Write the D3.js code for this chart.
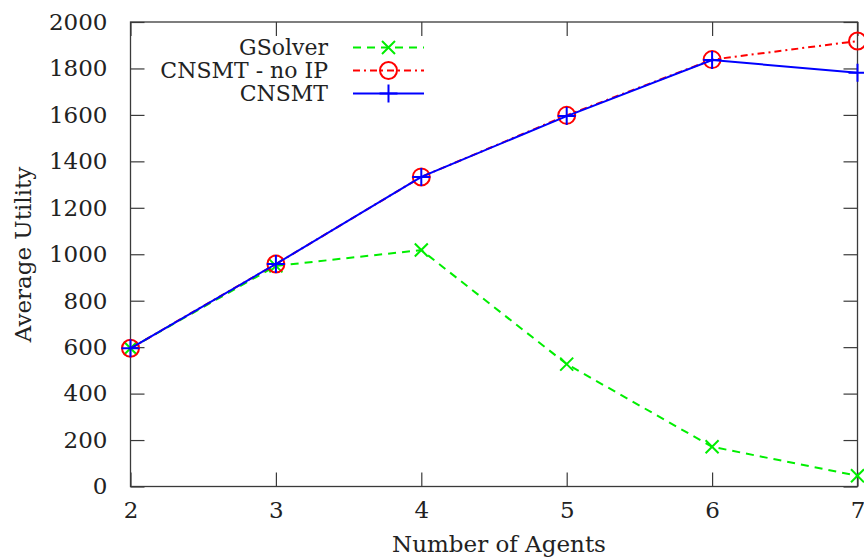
<!DOCTYPE html>
<html>
<head>
<meta charset="utf-8">
<script src="https://cdn.jsdelivr.net/npm/d3@7"></script>
<style>
  html, body { margin: 0; padding: 0; background: #fff; }
  svg { display: block; }
  text { font-family: "DejaVu Serif", serif; fill: #222; }
</style>
</head>
<body>
<svg id="chart" width="864" height="558"></svg>
<script>
// Average utility per number of agents
const agents = [2, 3, 4, 5, 6, 7];
const gsolver = [595, 950, 1018, 527, 171, 46];
const cnsmtNoIP = [595, 958, 1333, 1598, 1838, 1918];
const cnsmt = [595, 958, 1333, 1595, 1836, 1782];
const yTicks = [0, 200, 400, 600, 800, 1000, 1200, 1400, 1600, 1800, 2000];
const xTicks = [2, 3, 4, 5, 6, 7];

const seriesNames = ["GSolver", "CNSMT - no IP", "CNSMT"];
const seriesColors = ["#00ee00", "#ff0000", "#0000ff"];
const seriesDash = ["8,6", "7,4,2,4", null];
const seriesMarker = ["cross", "circle", "plus"];
const seriesValues = [gsolver, cnsmtNoIP, cnsmt];

const svg = d3.select("#chart");
const plotLeft = 130.5, plotRight = 857.5, plotTop = 22, plotBottom = 486.5;

const x = d3.scaleLinear().domain([2, 7]).range([plotLeft, plotRight]);
const y = d3.scaleLinear().domain([0, 2000]).range([plotBottom, plotTop]);

const axisColor = "#3a3a3a";
const tickLen = 14;

// Frame
svg.append("rect")
  .attr("x", plotLeft).attr("y", plotTop)
  .attr("width", plotRight - plotLeft).attr("height", plotBottom - plotTop)
  .attr("fill", "none").attr("stroke", axisColor).attr("stroke-width", 1.3);

// Axes with inward ticks, mirrored on the opposite sides
const fontSize = 23;
const fmt = d3.format("d");
const yAxisL = d3.axisLeft(y).tickValues(yTicks).tickSize(-tickLen).tickPadding(23).tickFormat(fmt);
const yAxisR = d3.axisRight(y).tickValues(yTicks).tickSize(-tickLen).tickFormat("");
const xAxisB = d3.axisBottom(x).tickValues(xTicks).tickSize(-tickLen).tickPadding(8).tickFormat(fmt);
const xAxisT = d3.axisTop(x).tickValues(xTicks).tickSize(-tickLen).tickFormat("");

function styleAxis(g) {
  g.select(".domain").remove();
  g.selectAll(".tick line").attr("stroke", axisColor).attr("stroke-width", 1.2);
  g.selectAll(".tick text")
    .attr("font-family", "DejaVu Serif, serif")
    .attr("font-size", fontSize)
    .attr("fill", "#222");
}

svg.append("g").attr("transform", `translate(${plotLeft},0)`).call(yAxisL).call(styleAxis);
svg.append("g").attr("transform", `translate(${plotRight},0)`).call(yAxisR).call(styleAxis);
svg.append("g").attr("transform", `translate(0,${plotBottom})`).call(xAxisB).call(styleAxis)
  .selectAll(".tick text").attr("dy", "1.03em");
svg.append("g").attr("transform", `translate(0,${plotTop})`).call(xAxisT).call(styleAxis);

// Axis titles
svg.append("text")
  .attr("x", 499).attr("y", 552)
  .attr("text-anchor", "middle")
  .attr("font-size", fontSize)
  .text("Number of Agents");
svg.append("text")
  .attr("transform", `translate(31,254.5) rotate(-90)`)
  .attr("text-anchor", "middle")
  .attr("font-size", fontSize)
  .text("Average Utility");

// Marker drawing
function drawMarker(g, type, cx, cy, color) {
  if (type === "circle") {
    g.append("circle").attr("cx", cx).attr("cy", cy).attr("r", 8.5)
      .attr("fill", "none").attr("stroke", color).attr("stroke-width", 2);
  } else if (type === "plus") {
    const s = 9;
    g.append("path")
      .attr("d", `M${cx - s},${cy}H${cx + s}M${cx},${cy - s}V${cy + s}`)
      .attr("stroke", color).attr("stroke-width", 2).attr("fill", "none");
  } else {
    const s = 6.5;
    g.append("path")
      .attr("d", `M${cx - s},${cy - s}L${cx + s},${cy + s}M${cx - s},${cy + s}L${cx + s},${cy - s}`)
      .attr("stroke", color).attr("stroke-width", 2).attr("fill", "none");
  }
}

const line = d3.line().x((d, i) => x(agents[i])).y(d => y(d));

seriesValues.forEach((vals, k) => {
  const g = svg.append("g");
  g.append("path")
    .datum(vals)
    .attr("d", line)
    .attr("fill", "none")
    .attr("stroke", seriesColors[k])
    .attr("stroke-width", 2)
    .attr("stroke-dasharray", seriesDash[k]);
  vals.forEach((v, i) => drawMarker(g, seriesMarker[k], x(agents[i]), y(v), seriesColors[k]));
});

// Legend
const legendRows = [47.5, 70.5, 93.5];
const legendTextX = 328, lineX0 = 353, lineX1 = 424;
seriesNames.forEach((name, k) => {
  const ly = legendRows[k];
  svg.append("text")
    .attr("x", legendTextX).attr("y", ly)
    .attr("dy", "0.35em")
    .attr("text-anchor", "end")
    .attr("font-size", 22)
    .text(name);
  const g = svg.append("g");
  g.append("line")
    .attr("x1", lineX0).attr("x2", lineX1)
    .attr("y1", ly).attr("y2", ly)
    .attr("stroke", seriesColors[k]).attr("stroke-width", 2)
    .attr("stroke-dasharray", seriesDash[k]);
  drawMarker(g, seriesMarker[k], (lineX0 + lineX1) / 2, ly, seriesColors[k]);
});
</script>
</body>
</html>
